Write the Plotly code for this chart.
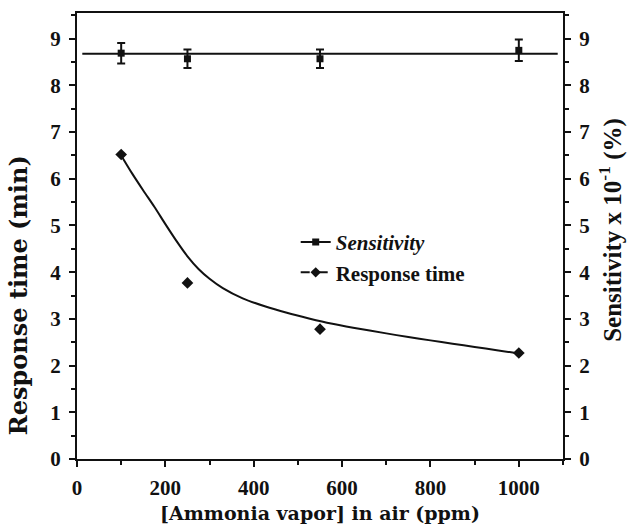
import plotly.graph_objects as go

# ---- data ----
conc_ppm = [100, 250, 550, 1000]
sensitivity = [8.69, 8.57, 8.57, 8.75]
sensitivity_err = [0.22, 0.20, 0.20, 0.23]
sens_fit_x = [12, 1088]
sens_fit_y = [8.68, 8.68]

response_time = [6.52, 3.77, 2.78, 2.27]
resp_fit_x = [100, 125, 150, 175, 200, 225, 250, 275, 300, 330, 375, 425,
              475, 525, 575, 625, 700, 750, 800, 850, 900, 950, 1000]
resp_fit_y = [6.50, 6.11, 5.75, 5.40, 5.03, 4.67, 4.34, 4.07, 3.86, 3.66,
              3.44, 3.27, 3.13, 3.01, 2.90, 2.81, 2.69, 2.61, 2.54, 2.47,
              2.40, 2.33, 2.26]

x_ticks = [0, 200, 400, 600, 800, 1000]
y_ticks = [0, 1, 2, 3, 4, 5, 6, 7, 8, 9]

x_title = "[Ammonia vapor] in air (ppm)"
y_title = "Response time (min)"
y2_title = "Sensitivity x 10<sup>-1</sup> (%)"

FONT = "Liberation Serif"
WIDE_FONT = "DejaVu Serif"
BLACK = "#111111"

fig = go.Figure()

# response time fit curve (solid)
fig.add_trace(go.Scatter(x=resp_fit_x, y=resp_fit_y, mode="lines",
                         line=dict(color=BLACK, width=2, shape="spline",
                                   smoothing=0.8),
                         showlegend=False, hoverinfo="skip"))
# response time points
fig.add_trace(go.Scatter(x=conc_ppm, y=response_time, mode="markers",
                         marker=dict(symbol="diamond", size=9, color=BLACK),
                         showlegend=False))
# sensitivity fit line
fig.add_trace(go.Scatter(x=sens_fit_x, y=sens_fit_y, mode="lines", yaxis="y2",
                         line=dict(color=BLACK, width=2),
                         showlegend=False, hoverinfo="skip"))
# sensitivity points with error bars
fig.add_trace(go.Scatter(x=conc_ppm, y=sensitivity, mode="markers", yaxis="y2",
                         marker=dict(symbol="square", size=7, color=BLACK),
                         error_y=dict(type="data", array=sensitivity_err,
                                      color=BLACK, thickness=2, width=4),
                         showlegend=False))
# legend entries
fig.add_trace(go.Scatter(x=[None], y=[None], mode="lines+markers",
                         name="<i>Sensitivity</i>",
                         line=dict(color=BLACK, width=2),
                         marker=dict(symbol="square", size=7, color=BLACK)))
fig.add_trace(go.Scatter(x=[None], y=[None], mode="lines+markers",
                         name="Response time",
                         line=dict(color=BLACK, width=2, dash="dash"),
                         marker=dict(symbol="diamond", size=8, color=BLACK)))

axis_common = dict(
    showline=True, linecolor=BLACK, linewidth=2,
    ticks="outside", ticklen=6, tickwidth=2, tickcolor=BLACK,
    showgrid=False, zeroline=False,
    tickfont=dict(family=FONT, size=21, color=BLACK, weight="bold"),
)
minor_x = dict(dtick=100, ticks="outside", ticklen=4, tickwidth=2,
               tickcolor=BLACK)
minor_y = dict(dtick=0.5, ticks="outside", ticklen=4, tickwidth=2,
               tickcolor=BLACK)

fig.update_layout(
    width=630, height=527,
    margin=dict(l=77, r=67, t=13, b=68),
    paper_bgcolor="white", plot_bgcolor="white",
    font=dict(family=FONT, color=BLACK),
    xaxis=dict(range=[0, 1100], tickvals=x_ticks, mirror=True,
               minor=minor_x, ticklabelstandoff=3, **axis_common),
    yaxis=dict(range=[0, 9.55], tickvals=y_ticks, minor=minor_y,
               ticklabelstandoff=4, **axis_common),
    yaxis2=dict(range=[0, 9.55], tickvals=y_ticks, overlaying="y",
                side="right", minor=minor_y, ticklabelstandoff=4,
                **axis_common),
    legend=dict(x=0.45, y=0.452, xanchor="left", yanchor="middle",
                bgcolor="rgba(0,0,0,0)", borderwidth=0,
                font=dict(family=FONT, size=21, color=BLACK, weight="bold"),
                tracegroupgap=0),
    showlegend=True,
    annotations=[
        dict(text=x_title, xref="paper", yref="paper", x=0.5, y=-0.122,
             xanchor="center", yanchor="middle", showarrow=False,
             font=dict(family=WIDE_FONT, size=19, color=BLACK,
                       weight="bold")),
        dict(text=y_title, xref="paper", yref="y", x=-0.12, y=3.5,
             xanchor="center", yanchor="middle", showarrow=False,
             textangle=-90,
             font=dict(family=WIDE_FONT, size=24, color=BLACK,
                       weight="bold")),
        dict(text=y2_title, xref="paper", yref="y", x=1.098, y=4.9,
             xanchor="center", yanchor="middle", showarrow=False,
             textangle=-90,
             font=dict(family=FONT, size=25, color=BLACK, weight="bold")),
    ],
)

fig.write_html("out.html",
               config={"displayModeBar": False},
               post_script="document.body.style.margin='0';"
                           "document.body.style.overflow='hidden';")
